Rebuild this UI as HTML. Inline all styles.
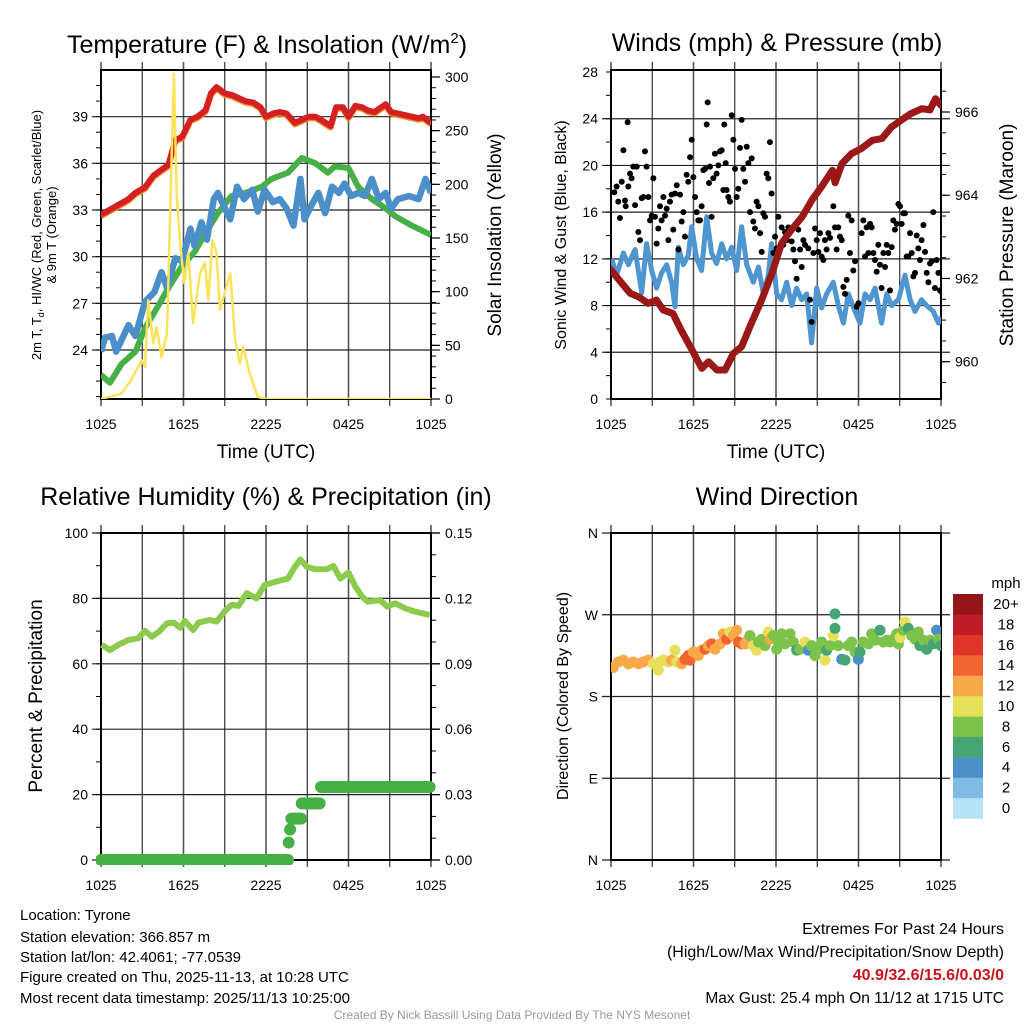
<!DOCTYPE html>
<html><head><meta charset="utf-8"><style>
html,body{margin:0;padding:0;background:#fff;}
svg{display:block;font-family:"Liberation Sans",Arial,sans-serif;}
</style></head><body>
<svg id="chart" width="1024" height="1024" viewBox="0 0 1024 1024" xmlns="http://www.w3.org/2000/svg">
<defs>
<clipPath id="c1"><rect x="101" y="70" width="330" height="329"/></clipPath>
<clipPath id="c2"><rect x="611" y="70" width="330" height="329"/></clipPath>
<clipPath id="c3"><rect x="96" y="528" width="340" height="337"/></clipPath>
<clipPath id="c4"><rect x="611" y="533" width="330" height="327"/></clipPath>
</defs>
<text x="267" y="53" font-size="25" text-anchor="middle">Temperature (F) &amp; Insolation (W/m<tspan font-size="15" dy="-10">2</tspan><tspan dy="10">)</tspan></text>
<text x="777" y="51" font-size="25" text-anchor="middle">Winds (mph) &amp; Pressure (mb)</text>
<text x="266" y="505" font-size="25" text-anchor="middle">Relative Humidity (%) &amp; Precipitation (in)</text>
<text x="777" y="505" font-size="25" text-anchor="middle">Wind Direction</text>

<text transform="translate(41,235) rotate(-90)" font-size="13" text-anchor="middle">2m T, T<tspan font-size="9" dy="3">d</tspan><tspan dy="-3">, HI/WC (Red, Green, Scarlet/Blue)</tspan></text>
<text transform="translate(56,235) rotate(-90)" font-size="13" text-anchor="middle">&amp; 9m T (Orange)</text>
<text transform="translate(501,235) rotate(-90)" font-size="19" text-anchor="middle">Solar Insolation (Yellow)</text>
<text transform="translate(566,235) rotate(-90)" font-size="16" text-anchor="middle">Sonic Wind &amp; Gust (Blue, Black)</text>
<text transform="translate(1013,235) rotate(-90)" font-size="19" text-anchor="middle">Station Pressure (Maroon)</text>
<text transform="translate(42,696) rotate(-90)" font-size="19" text-anchor="middle">Percent &amp; Precipitation</text>
<text transform="translate(568,696) rotate(-90)" font-size="16" text-anchor="middle">Direction (Colored By Speed)</text>
<text x="266" y="458" font-size="19" text-anchor="middle">Time (UTC)</text>
<text x="776" y="458" font-size="19" text-anchor="middle">Time (UTC)</text>

<g font-size="15">
<text x="20" y="920">Location: Tyrone</text>
<text x="20" y="942">Station elevation: 366.857 m</text>
<text x="20" y="962">Station lat/lon: 42.4061; -77.0539</text>
<text x="20" y="982">Figure created on Thu, 2025-11-13, at 10:28 UTC</text>
<text x="20" y="1003">Most recent data timestamp: 2025/11/13 10:25:00</text>
</g>
<g font-size="16" text-anchor="end">
<text x="1004" y="934">Extremes For Past 24 Hours</text>
<text x="1004" y="957">(High/Low/Max Wind/Precipitation/Snow Depth)</text>
<text x="1004" y="980" fill="#c8141e" font-weight="bold">40.9/32.6/15.6/0.03/0</text>
<text x="1004" y="1003" font-size="15.5">Max Gust: 25.4 mph On 11/12 at 1715 UTC</text>
</g>
<text x="512" y="1019" font-size="12" fill="#999" text-anchor="middle">Created By Nick Bassill Using Data Provided By The NYS Mesonet</text>
<text x="1006" y="588" font-size="15" text-anchor="middle">mph</text>
</svg>
<script>
// ---------- data ----------
const timeTickLabels = ["1025","1625","2225","0425","1025"];
const timeTickHours = [0,6,12,18,24];
const tempTicks = [24,27,30,33,36,39];
const solarTicks = [0,50,100,150,200,250,300];
const windTicks = [0,4,8,12,16,20,24,28];
const windGrid = [4,8,12,16,20,24];
const pressTicks = [960,962,964,966];
const rhTicks = [0,20,40,60,80,100];
const precipTicks = [0,0.03,0.06,0.09,0.12,0.15];
const dirTickLabels = ["N","E","S","W","N"];
const dirTickValues = [0,90,180,270,360];
const speedBins = ["0","2","4","6","8","10","12","14","16","18","20+"];

const tempHours = [0,1.0,2.0,2.5,3.2,3.8,4.4,4.9,5.4,5.9,6.5,7.0,7.6,8.0,8.4,9.0,9.5,10.0,10.5,11.1,11.6,12.0,12.5,13.0,13.5,14.1,14.6,15.1,15.6,16.0,16.7,17.1,17.6,18.0,18.5,19.0,19.4,19.9,20.7,21.1,21.6,22.1,22.6,23.1,23.4,24];
const tempVals = [32.7,33.2,33.7,34.1,34.45,35.2,35.6,35.9,37.5,37.7,38.8,39.0,39.4,40.5,40.9,40.5,40.4,40.2,40.0,39.9,39.6,39.0,39.2,39.3,39.2,38.6,38.8,39.0,39.0,38.8,38.4,39.6,39.6,39.0,39.7,39.6,39.4,39.3,39.8,39.3,39.2,39.1,39.0,38.9,39.0,38.6];
const hiHours = [0,0.65,1.5,2.5,3.2,4.2,4.9,5.9,6.8,7.8,8.5,9.5,10.5,11.7,12.4,13.6,14.6,15.6,16.5,17.0,18.0,18.7,19.7,20.7,21.4,22.6,24];
const hiVals = [22.4,21.9,23.1,23.9,25.4,26.9,28.0,29.4,30.3,31.8,32.8,33.9,34.1,34.5,35.0,35.4,36.35,36.0,35.4,35.8,35.7,34.5,33.7,33.1,32.6,32.0,31.4];
const dewHours = [0,0.3,0.8,1.1,2.0,2.5,3.2,3.9,4.4,4.8,5.4,5.9,6.5,6.8,7.3,7.7,8.2,8.5,8.9,9.4,9.9,10.4,11.0,11.4,11.9,12.5,13.0,13.5,14.0,14.5,14.8,15.3,15.8,16.3,16.8,17.3,17.7,18.2,18.7,19.2,19.7,20.2,20.7,21.1,21.6,22.4,23.1,23.6,24];
const dewVals = [23.9,24.8,24.9,23.9,25.6,24.9,27.1,27.75,29.0,28.0,29.9,29.7,31.8,30.7,32.2,31.1,33.7,34.1,33.3,32.4,34.5,33.7,34.3,32.9,34.3,33.5,33.7,33.1,32.0,35.0,32.4,33.3,34.1,32.8,34.5,34.1,34.7,33.9,34.1,33.9,35.0,33.7,34.1,33.1,33.7,33.9,33.7,35.0,34.1];
const solarHours = [0,1.5,2.2,2.96,3.2,3.44,3.8,4.05,4.4,4.8,5.0,5.3,5.5,5.75,6.06,6.35,6.7,7.2,7.56,7.8,8.1,8.4,8.65,9.0,9.4,9.75,10.1,10.35,10.8,11.4,12,24];
const solarVals = [0,5,18,36,30,92,52,67,39,61,160,303,192,145,108,136,71,117,127,92,148,136,83,99,117,55,33,49,24,2,0,0];

const windHours = [0.05,0.41,0.90,1.26,1.75,2.23,2.59,2.96,3.32,3.68,4.05,4.41,4.65,4.90,5.26,5.62,5.87,6.23,6.59,6.96,7.32,7.68,8.05,8.41,8.78,9.14,9.50,9.87,10.35,10.72,11.08,11.44,11.68,12.05,12.41,12.78,13.14,13.50,13.87,14.23,14.59,14.96,15.32,15.68,16.17,16.53,16.90,17.26,17.75,18.11,18.47,18.84,19.20,19.68,20.05,20.41,20.90,21.38,21.75,22.11,22.59,22.96,23.44,23.81,24];
const windVals = [12.0,10.6,12.5,11.5,12.8,9.1,13.3,11.0,9.5,10.8,11.5,10.0,7.9,13.0,11.5,12.3,14.75,12.0,11.0,15.6,12.5,11.6,13.3,12.0,13.0,11.0,14.75,11.5,10.0,11.3,9.0,10.6,13.3,9.0,8.5,10.0,8.0,9.5,8.5,9.0,4.8,9.5,7.8,9.0,10.0,8.0,6.5,9.0,7.5,6.5,9.0,8.5,9.5,6.5,9.0,8.0,8.5,10.6,8.5,7.5,8.5,8.0,7.5,6.5,7.0];
const gustHours = [0.24,0.41,0.53,0.65,0.78,0.90,1.02,1.07,1.21,1.26,1.38,1.50,1.62,1.75,1.87,1.99,2.11,2.23,2.35,2.47,2.59,2.72,2.84,2.96,3.08,3.20,3.32,3.44,3.56,3.68,3.81,3.93,4.05,4.17,4.29,4.41,4.53,4.65,4.78,4.90,5.02,5.14,5.26,5.38,5.50,5.62,5.75,5.87,5.99,6.11,6.23,6.35,6.47,6.59,6.72,6.84,6.96,7.03,7.13,7.20,7.32,7.44,7.56,7.68,7.81,7.93,8.05,8.17,8.24,8.34,8.41,8.53,8.65,8.78,8.90,9.02,9.14,9.26,9.38,9.50,9.62,9.75,9.87,9.99,10.11,10.23,10.35,10.47,10.59,10.72,10.84,10.96,11.08,11.20,11.32,11.44,11.56,11.68,11.81,11.93,12.05,12.17,12.41,12.53,12.65,12.78,12.90,13.14,13.26,13.38,13.50,13.62,13.75,13.87,13.99,14.11,14.35,14.47,14.59,14.72,14.84,14.96,15.08,15.20,15.32,15.44,15.56,15.68,15.81,15.93,16.17,16.29,16.41,16.53,16.65,16.78,16.90,17.02,17.14,17.26,17.38,17.50,17.62,17.75,17.87,17.99,18.23,18.35,18.47,18.59,18.72,18.84,18.96,19.08,19.20,19.32,19.44,19.56,19.68,19.81,19.93,20.05,20.17,20.29,20.41,20.53,20.65,20.78,20.90,21.02,21.14,21.26,21.38,21.50,21.62,21.75,21.87,21.99,22.11,22.23,22.35,22.47,22.59,22.72,22.84,22.96,23.08,23.20,23.32,23.44,23.56,23.68,23.81,23.93,24.0];
const gustVals = [17.7,18.2,16.9,15.5,18.6,21.3,17.0,16.5,23.7,18.2,19.3,18.9,19.9,16.6,19.9,14.3,13.6,17.2,17.3,21.2,19.9,17.3,15.3,15.7,18.9,15.6,13.3,14.6,16.5,15.3,17.3,15.7,16.3,13.6,16.9,17.5,14.5,17.6,18.3,12.8,17.5,15.2,16.0,13.9,19.2,18.6,20.7,22.2,19.0,17.3,16.0,15.3,15.3,16.5,19.6,19.7,23.5,25.4,18.5,19.9,15.6,18.9,21.0,19.3,20.0,21.2,21.3,17.9,23.5,20.2,17.9,17.3,16.9,24.3,22.2,19.7,17.3,18.0,21.5,23.9,19.7,18.6,21.6,20.2,16.0,20.6,15.2,14.6,16.9,16.5,14.2,12.6,15.9,15.6,19.3,18.9,22.0,17.6,12.5,13.9,12.9,15.6,14.7,13.2,14.3,13.6,14.7,13.5,12.8,11.8,10.3,14.5,12.8,11.3,13.6,13.2,12.9,8.5,6.6,12.5,14.6,13.6,12.6,14.2,12.2,11.9,13.6,12.8,14.2,13.8,16.5,14.7,12.8,14.7,13.9,13.6,9.6,9.0,10.2,15.7,12.5,15.3,11.0,11.8,7.9,8.2,14.2,15.3,12.2,14.7,12.5,15.0,14.7,12.5,11.9,10.9,13.2,11.5,9.5,12.5,11.3,13.2,12.5,9.3,13.0,15.3,14.5,15.0,16.7,16.5,15.0,15.9,15.9,12.2,12.2,14.2,12.5,10.5,10.8,14.0,12.9,11.9,13.6,14.9,12.6,10.8,10.0,11.6,11.8,16.0,9.5,11.9,10.8,9.3,9.2];
const pressHours = [0,0.2,0.8,1.4,2.0,2.7,3.3,3.8,4.5,5.1,5.9,6.6,7.1,7.7,8.3,8.9,9.5,10.2,10.95,11.7,12.4,13.1,13.9,14.6,15.3,16.1,16.3,16.8,17.5,18.2,19.0,19.7,20.4,21.1,21.8,22.6,23.2,23.6,24];
const pressVals = [962.2,962.12,961.88,961.64,961.56,961.40,961.48,961.24,961.16,960.76,960.28,959.84,960.0,959.80,959.80,960.2,960.36,960.92,961.48,962.12,962.84,963.16,963.48,963.88,964.2,964.6,964.3,964.76,965.0,965.12,965.32,965.36,965.64,965.8,965.96,966.08,966.05,966.32,966.16];

const rhHours = [0.05,0.65,1.26,2.0,2.7,3.2,3.7,4.2,4.8,5.3,5.75,6.1,6.7,7.1,7.9,8.4,9.1,9.5,10.0,10.6,11.3,11.9,12.7,13.6,14.1,14.5,14.96,15.6,16.4,16.9,17.4,18.0,18.5,19.0,19.4,20.3,20.8,21.4,22.1,22.8,23.4,23.9];
const rhVals = [65.8,64.2,65.8,67.3,67.8,70.1,68.3,69.8,72.4,72.6,71.0,73.1,70.3,72.6,73.4,72.9,76.5,78.0,77.7,81.6,80.0,84.1,85.1,86.1,89.7,91.9,89.7,88.9,88.9,89.9,86.1,87.9,83.6,80.5,79.0,79.5,77.5,78.5,77.0,76.0,75.4,74.9];
const precipHours = [0,13.65,13.75,13.85,14.6,16.0,24];
const precipVals = [0,0.008,0.014,0.019,0.026,0.0335,0.0335];

const dirHours = [0.17,0.53,0.90,1.26,1.62,1.99,2.35,2.72,3.08,3.44,3.56,3.81,4.17,4.41,4.65,4.78,5.14,5.38,5.62,5.75,5.99,6.35,6.59,6.84,7.08,7.32,7.56,7.93,8.17,8.41,8.65,8.90,9.14,9.26,9.50,9.75,9.99,10.11,10.35,10.59,10.72,10.96,11.20,11.44,11.56,11.81,12.05,12.17,12.41,12.65,13.02,13.26,13.50,13.75,14.11,14.35,14.59,14.84,15.08,15.32,15.56,15.68,15.93,16.17,16.29,16.29,16.53,16.78,17.02,17.26,17.50,17.75,17.99,18.11,18.35,18.72,18.96,19.20,19.56,19.81,20.05,20.29,20.53,20.78,20.90,21.02,21.26,21.38,21.62,21.87,22.11,22.35,22.47,22.72,22.96,23.20,23.44,23.68,23.81,24.0];
const dirVals = [212,218,220,216,218,216,218,220,216,209,218,220,218,220,231,218,216,221,225,220,229,225,231,232,236,238,232,238,249,243,251,247,253,240,238,238,243,247,236,231,240,243,236,251,243,247,232,240,249,238,249,240,231,232,240,231,236,225,232,240,220,231,236,247,255,271,236,221,220,236,240,229,221,229,240,238,249,242,253,240,242,240,243,249,238,245,253,262,255,247,243,251,236,242,232,242,238,253,243,236];
const dirSpeeds = [12,12,12,12,13,12,12,12,11,10,10,10,10,12,10,11,12,14,14,14,12,12,12,14,12,14,12,12,13,15,10,12,12,14,15,12,12,8,10,10,8,8,8,10,12,8,8,8,8,8,8,8,6,8,10,5,8,8,8,8,10,6,8,10,6,6,8,5,6,8,8,8,4,6,8,8,8,8,6,8,8,8,8,8,8,10,8,10,6,8,8,8,6,8,6,8,6,4,8,6];

// ---------- helpers ----------
const svg = document.getElementById('chart');
const NS = 'http://www.w3.org/2000/svg';
function mk(tag, attrs, parent){
  const e = document.createElementNS(NS, tag);
  for (const k in attrs) e.setAttribute(k, attrs[k]);
  (parent || svg).appendChild(e);
  return e;
}
function lin(d0,d1,r0,r1){ return v => r0 + (v-d0)/(d1-d0)*(r1-r0); }
const speedColors = ["#b6e2f6","#7fbbe5","#4a8fc7","#46a673","#7dc24b","#e6e05a","#f8a94a","#ef6531","#df3429","#bf1d25","#94151a"];
function speedColor(s){ let i = Math.floor(s/2); if(i<0)i=0; if(i>10)i=10; return speedColors[i]; }

const P = {
  p1:{x0:101,x1:431,y0:70,y1:399},
  p2:{x0:611,x1:941,y0:70,y1:399},
  p3:{x0:101,x1:431,y0:533,y1:860},
  p4:{x0:611,x1:941,y0:533,y1:860}
};

function frame(p, name, yL, yLticks, yLminor, yLlabels, yR, yRticks, yRminor, yRlabels, hGridVals){
  const g = mk('g', {});
  
  
  const xs = lin(0,24,p.x0,p.x1);
  for (let h=0; h<=24; h+=3){
    const x = xs(h);
    const ln = mk('line',{x1:x,x2:x,y1:p.y0-8,y2:p.y1+7,stroke:(h%6===0?'#555':'#222'),'stroke-width':(h%6===0?1.6:1.1)}, g);
    
    
  }
  hGridVals.forEach(v => {
    const y = yL(v);
    const ln = mk('line',{x1:p.x0-9,x2:p.x1+9,y1:y,y2:y,stroke:'#222','stroke-width':1.2}, g);
    
    
  });
  yLminor.forEach(v => { const y=yL(v); mk('line',{x1:p.x0-5,x2:p.x0,y1:y,y2:y,stroke:'#000','stroke-width':1}, g); });
  if (yR){
    yRminor.forEach(v => { const y=yR(v); mk('line',{x1:p.x1,x2:p.x1+5,y1:y,y2:y,stroke:'#000','stroke-width':1}, g); });
    yRticks.forEach(v => { const y=yR(v); mk('line',{x1:p.x1,x2:p.x1+9,y1:y,y2:y,stroke:'#000','stroke-width':1.2}, g); });
  }
  const b = mk('rect',{x:p.x0,y:p.y0,width:p.x1-p.x0,height:p.y1-p.y0,fill:'none',stroke:'#000','stroke-width':2}, g);
  
  
  timeTickHours.forEach((h,i) => {
    const t = mk('text',{x:xs(h),y:p.y1+30,'font-size':14,'text-anchor':'middle'}, g);
    t.textContent = timeTickLabels[i];
    
    
  });
  yLticks.forEach((v,i) => {
    const t = mk('text',{x:p.x0-13,y:yL(v)+5,'font-size':14,'text-anchor':'end'}, g);
    t.textContent = yLlabels[i];
    
    
  });
  if (yR){
    yRticks.forEach((v,i) => {
      const t = mk('text',{x:p.x1+14,y:yR(v)+5,'font-size':14,'text-anchor':'start'}, g);
      t.textContent = yRlabels[i];
      
      
    });
  }
  return xs;
}
function range(a,b,s){ const r=[]; for(let v=a; v<=b+1e-9; v+=s) r.push(+v.toFixed(4)); return r; }
function pathD(xs, ys, hs, vs){ return hs.map((h,i)=>(i?'L':'M')+xs(h).toFixed(1)+' '+ys(vs[i]).toFixed(1)).join(' '); }

// ---------- panel 1 ----------
const p1 = P.p1;
const yT = lin(20.85,42.0,p1.y1,p1.y0);
const yS = lin(0,300,p1.y1,77);
const xs1 = frame(p1,'temp',yT,tempTicks,range(21,41,1),tempTicks.map(String),yS,solarTicks,range(0,300,10),solarTicks.map(String),tempTicks);
const g1 = mk('g',{'clip-path':'url(#c1)'});


let pth = mk('path',{d:pathD(xs1,yT,tempHours,tempVals),fill:'none',stroke:'#f08a2a','stroke-width':6,'stroke-linejoin':'round',transform:'translate(0,1.5)'},g1);


pth = mk('path',{d:pathD(xs1,yT,hiHours,hiVals),fill:'none',stroke:'#46b046','stroke-width':6,'stroke-linejoin':'round'},g1);


pth = mk('path',{d:pathD(xs1,yT,dewHours,dewVals),fill:'none',stroke:'#4a8fc8','stroke-width':6.5,'stroke-linejoin':'round'},g1);


pth = mk('path',{d:pathD(xs1,yT,tempHours,tempVals),fill:'none',stroke:'#d42020','stroke-width':6,'stroke-linejoin':'round'},g1);


pth = mk('path',{d:pathD(xs1,yS,solarHours,solarVals),fill:'none',stroke:'#fde35a','stroke-width':2.5,'stroke-linejoin':'round'},g1);



// ---------- panel 2 ----------
const p2 = P.p2;
const yW = lin(0,28,p2.y1,72);
const yP = lin(960,966,361.7,112);
const xs2 = frame(p2,'winds',yW,windTicks,range(0,28,2),windTicks.map(String),yP,pressTicks,range(959.5,966.5,0.5),pressTicks.map(String),windGrid);
const g2 = mk('g',{'clip-path':'url(#c2)'});


pth = mk('path',{d:pathD(xs2,yW,windHours,windVals),fill:'none',stroke:'#4f95d0','stroke-width':5,'stroke-linejoin':'round'},g2);


gustHours.forEach((h,i) => {
  const c = mk('circle',{cx:xs2(h),cy:yW(gustVals[i]),r:3,fill:'#000'},g2);
  
  
});
pth = mk('path',{d:pathD(xs2,yP,pressHours,pressVals),fill:'none',stroke:'#9a1818','stroke-width':7,'stroke-linejoin':'round','stroke-linecap':'round'},g2);



// ---------- panel 3 ----------
const p3 = P.p3;
const yR3 = lin(0,100,p3.y1,p3.y0);
const yPr = lin(0,0.15,p3.y1,p3.y0);
const xs3 = frame(p3,'rh',yR3,rhTicks,range(0,100,10),rhTicks.map(String),yPr,precipTicks,range(0,0.15,0.01),precipTicks.map(v=>v.toFixed(2)),rhTicks);
const g3 = mk('g',{'clip-path':'url(#c3)'});


pth = mk('path',{d:pathD(xs3,yR3,rhHours,rhVals),fill:'none',stroke:'#8dcb4e','stroke-width':6,'stroke-linejoin':'round'},g3);


for (let i=0;i<precipHours.length-1;i++){
  for (let h=precipHours[i]; h<precipHours[i+1]-1e-6 || (i===precipHours.length-2 && h<=24); h+=0.1){
    const c = mk('circle',{cx:xs3(h),cy:yPr(precipVals[i]),r:6,fill:'#46b046'},g3);
    
    
  }
}

// ---------- panel 4 ----------
const p4 = P.p4;
const yD = lin(0,360,p4.y1,p4.y0);
const xs4 = frame(p4,'winddir',yD,dirTickValues,[],dirTickLabels,null,null,null,null,dirTickValues);
const g4 = mk('g',{'clip-path':'url(#c4)'});


dirHours.forEach((h,i) => {
  const c = mk('circle',{cx:xs4(h),cy:yD(dirVals[i]),r:5.5,fill:speedColor(dirSpeeds[i])},g4);
  
  
});
const cb = mk('g',{});


speedBins.forEach((lab,i) => {
  const y = 594 + (10-i)*20.4;
  const r = mk('rect',{x:953,y:y,width:30,height:20.6,fill:speedColors[i]},cb);
  
  
  const t = mk('text',{x:1006,y:y+15,'font-size':15,'text-anchor':'middle'},cb);
  t.textContent = lab;
  
  
});
</script>
</body></html>
